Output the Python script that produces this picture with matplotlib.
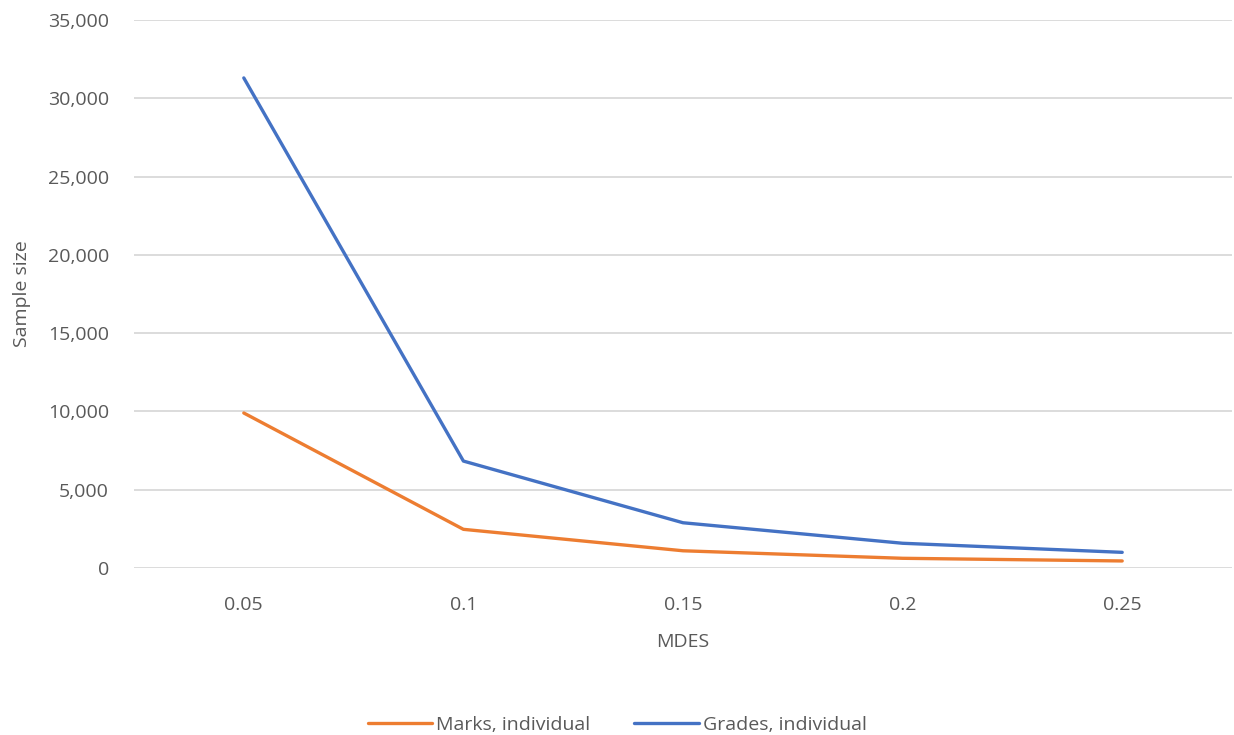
import matplotlib
matplotlib.use("Agg")
import matplotlib.pyplot as plt
from matplotlib.ticker import FuncFormatter

mdes = ["0.05", "0.1", "0.15", "0.2", "0.25"]
marks_individual = [9900, 2470, 1100, 620, 450]
grades_individual = [31300, 6830, 2890, 1580, 1000]

plt.rcParams["font.family"] = ["Open Sans", "DejaVu Sans"]

fig = plt.figure(figsize=(12.34, 7.35), dpi=100)
ax = fig.add_axes([134 / 1234, 1 - 568 / 735, 1098 / 1234, 548 / 735])

x = range(len(mdes))
ax.plot(x, marks_individual, color="#ED7D31", lw=2.4, label="Marks, individual",
        solid_capstyle="round", solid_joinstyle="round")
ax.plot(x, grades_individual, color="#4472C4", lw=2.4, label="Grades, individual",
        solid_capstyle="round", solid_joinstyle="round")

ax.set_xlim(-0.5, len(mdes) - 0.5)
ax.set_ylim(0, 35000)
ax.set_yticks(range(0, 35001, 5000))
ax.yaxis.set_major_formatter(FuncFormatter(lambda v, _: f"{int(v):,}"))
ax.set_xticks(list(x))
ax.set_xticklabels(mdes)

ax.grid(axis="y", color="#D9D9D9", lw=1.3)
ax.set_axisbelow(True)
for side in ["top", "right", "left", "bottom"]:
    ax.spines[side].set_visible(False)
ax.tick_params(length=0, colors="#595959", labelsize=14)
ax.tick_params(axis="y", pad=18)
ax.tick_params(axis="x", pad=20)

ax.set_xlabel("MDES", fontsize=14, color="#595959", labelpad=14)
ax.set_ylabel("Sample size", fontsize=14, color="#595959", labelpad=12)

fig.legend(loc="lower center", ncol=2, frameon=False, fontsize=14,
           labelcolor="#595959", bbox_to_anchor=(0.5, -0.022),
           handlelength=3.3, columnspacing=2.3, handletextpad=0.2)

fig.savefig("out.png", dpi=100)
